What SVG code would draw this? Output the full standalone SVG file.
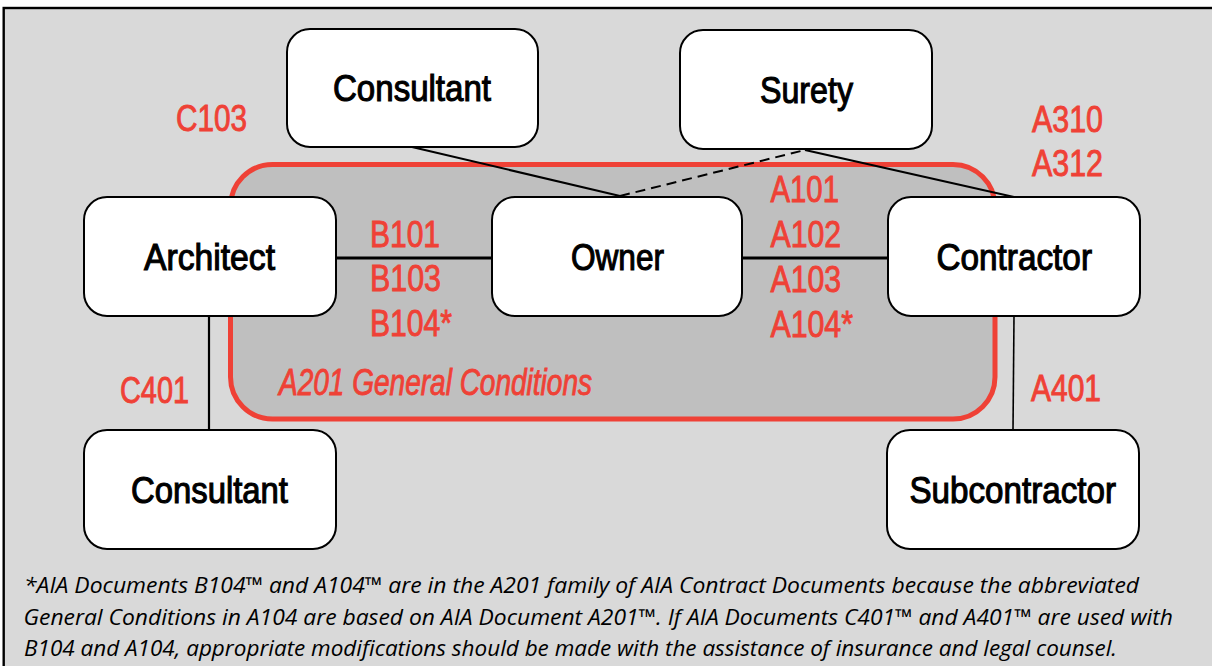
<svg xmlns="http://www.w3.org/2000/svg" width="1212" height="666" viewBox="0 0 1212 666">
<style>
.node{fill:#ffffff;stroke:#000000;stroke-width:2}
.lbl{font-family:"Liberation Sans",Arial,sans-serif;font-size:36px;font-weight:normal;fill:#000000;stroke:#000000;stroke-width:1.1;text-anchor:start}
.red{font-family:"Liberation Sans",Arial,sans-serif;font-size:36px;font-weight:normal;fill:#ef4136;stroke:#ef4136;stroke-width:0.9}
.conn{stroke:#000000;fill:none}
.note{font-family:"Open Sans","Liberation Sans",Arial,sans-serif;font-size:22px;font-style:italic;fill:#000000}
</style>
<rect x="0" y="0" width="1212" height="666" fill="#ffffff"/>
<rect id="frame" x="3.7" y="8" width="1230" height="680" fill="#d9d9d9" stroke="#000000" stroke-width="2.4"/>
<g id="a201-zone">
<rect x="230.5" y="164.5" width="764.5" height="254.5" rx="42" ry="42" fill="#bfbfbf" stroke="#ef4136" stroke-width="5"/>
<text class="red" x="279" y="395" font-style="italic" stroke-width="0.6" textLength="313" lengthAdjust="spacingAndGlyphs">A201 General Conditions</text>
</g>
<g id="connectors">
<line class="conn" x1="412" y1="147" x2="620" y2="196" stroke-width="2"/>
<line class="conn" x1="620" y1="196" x2="805" y2="150" stroke-width="2" stroke-dasharray="10 6"/>
<line class="conn" x1="805" y1="150" x2="1014" y2="197" stroke-width="2"/>
<line class="conn" x1="336" y1="258" x2="492" y2="258" stroke-width="3"/>
<line class="conn" x1="742" y1="258" x2="888" y2="258" stroke-width="3"/>
<line class="conn" x1="209" y1="316" x2="209" y2="430" stroke-width="2.2"/>
<line class="conn" x1="1014" y1="316" x2="1013" y2="430" stroke-width="1.6"/>
</g>
<g id="consultant-top">
<rect class="node" x="287" y="29" width="251" height="118" rx="23"/>
<text class="lbl" x="333" y="101" textLength="158" lengthAdjust="spacingAndGlyphs">Consultant</text>
</g>
<g id="surety">
<rect class="node" x="680" y="30" width="252" height="119" rx="23"/>
<text class="lbl" x="760" y="103" textLength="93" lengthAdjust="spacingAndGlyphs">Surety</text>
</g>
<g id="architect">
<rect class="node" x="84" y="197" width="252" height="119" rx="23"/>
<text class="lbl" x="144" y="270" textLength="131" lengthAdjust="spacingAndGlyphs">Architect</text>
</g>
<g id="owner">
<rect class="node" x="492" y="197" width="250" height="119" rx="23"/>
<text class="lbl" x="571" y="270" textLength="93" lengthAdjust="spacingAndGlyphs">Owner</text>
</g>
<g id="contractor">
<rect class="node" x="888" y="197" width="252" height="119" rx="23"/>
<text class="lbl" x="936.5" y="270" textLength="155.5" lengthAdjust="spacingAndGlyphs">Contractor</text>
</g>
<g id="consultant-bottom">
<rect class="node" x="84" y="430" width="252" height="119" rx="23"/>
<text class="lbl" x="131" y="503" textLength="157" lengthAdjust="spacingAndGlyphs">Consultant</text>
</g>
<g id="subcontractor">
<rect class="node" x="887" y="430" width="252" height="119" rx="23"/>
<text class="lbl" x="909.5" y="503" textLength="206.5" lengthAdjust="spacingAndGlyphs">Subcontractor</text>
</g>
<g id="labels">
<text class="red" x="176" y="131" textLength="71" lengthAdjust="spacingAndGlyphs">C103</text>
<text class="red" x="370" y="247" textLength="70" lengthAdjust="spacingAndGlyphs">B101</text>
<text class="red" x="370" y="291" textLength="71" lengthAdjust="spacingAndGlyphs">B103</text>
<text class="red" x="370" y="336" textLength="82" lengthAdjust="spacingAndGlyphs">B104*</text>
<text class="red" x="770.5" y="202" textLength="68.5" lengthAdjust="spacingAndGlyphs">A101</text>
<text class="red" x="770.5" y="247" textLength="70.5" lengthAdjust="spacingAndGlyphs">A102</text>
<text class="red" x="770.5" y="292" textLength="70.5" lengthAdjust="spacingAndGlyphs">A103</text>
<text class="red" x="770.5" y="337" textLength="82.5" lengthAdjust="spacingAndGlyphs">A104*</text>
<text class="red" x="1032" y="132" textLength="71" lengthAdjust="spacingAndGlyphs">A310</text>
<text class="red" x="1032" y="176" textLength="71" lengthAdjust="spacingAndGlyphs">A312</text>
<text class="red" x="120" y="403" textLength="69" lengthAdjust="spacingAndGlyphs">C401</text>
<text class="red" x="1031" y="401" textLength="70" lengthAdjust="spacingAndGlyphs">A401</text>
</g>
<g id="footnote">
<text class="note" x="24" y="593" textLength="1115" lengthAdjust="spacingAndGlyphs">*AIA Documents B104™ and A104™ are in the A201 family of AIA Contract Documents because the abbreviated</text>
<text class="note" x="23.5" y="625" textLength="1149.5" lengthAdjust="spacingAndGlyphs">General Conditions in A104 are based on AIA Document A201™. If AIA Documents C401™ and A401™ are used with</text>
<text class="note" x="24" y="656" textLength="1093" lengthAdjust="spacingAndGlyphs">B104 and A104, appropriate modifications should be made with the assistance of insurance and legal counsel.</text>
</g>
</svg>
